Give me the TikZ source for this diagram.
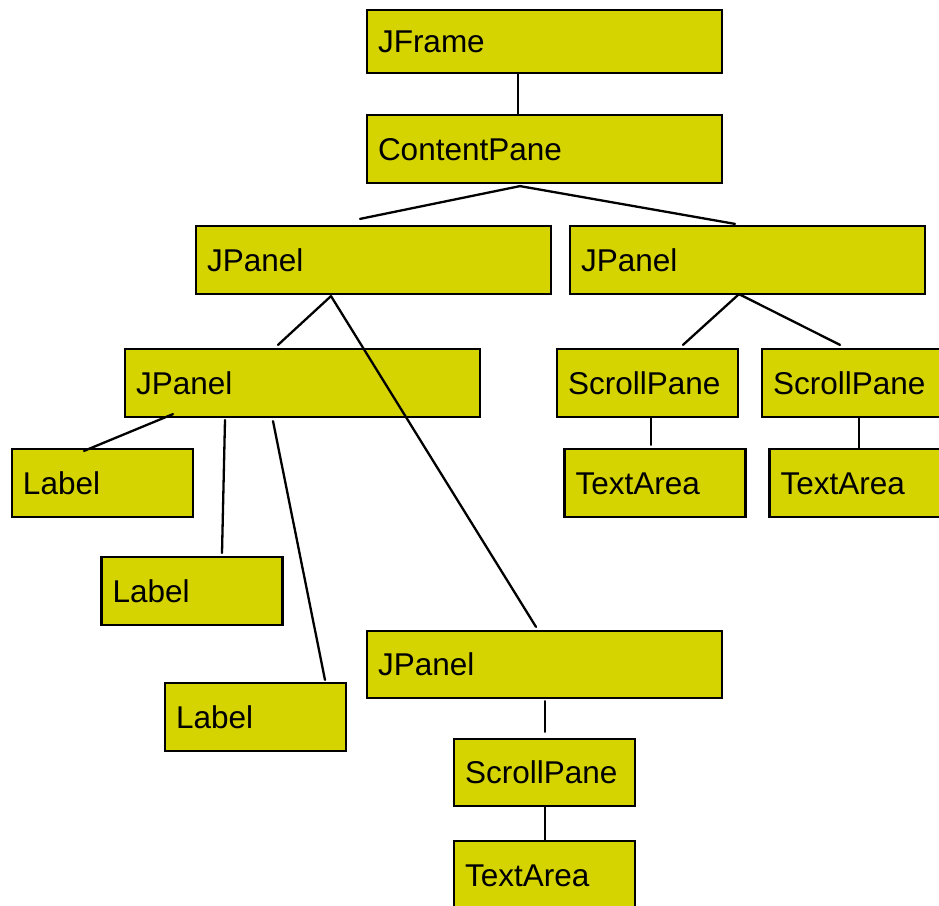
\documentclass[tikz,border=0pt]{standalone}
\usepackage{fontspec}
\setmainfont{Liberation Sans}
\usetikzlibrary{calc}
\definecolor{boxfill}{RGB}{213,211,0}
\tikzset{
  box/.style={draw=black, line width=2.2pt, fill=boxfill, rectangle,
    inner xsep=11pt, inner ysep=0pt, align=left,
    font=\fontsize{31.5}{35}\selectfont, text height=22.5pt, text depth=0pt},
  wide/.style={box, text width=333pt},
  narrow/.style={box, text width=159pt},
  conn/.style={line width=2.3pt, line cap=round}
}
\begin{document}
\begin{tikzpicture}[x=1pt,y=-1pt]
\useasboundingbox (0,0) rectangle (939,905);
\clip (0,0) rectangle (939,905);
% nodes
\node[wide, minimum height=63pt] (jf) at (544.5,41.5) {JFrame};
\node[wide, minimum height=68pt] (cp) at (544.5,149) {ContentPane};
\node[wide, minimum height=68pt] (jpl) at (373.5,260) {JPanel};
\node[wide, minimum height=68pt] (jpr) at (747.5,260) {JPanel};
\node[wide, minimum height=68pt] (jpll) at (302.5,383) {JPanel};
\node[narrow, minimum height=68pt] (spa) at (647.5,383) {ScrollPane};
\node[narrow, minimum height=68pt] (spb) at (852.5,383) {ScrollPane};
\node[narrow, minimum height=68pt] (lba) at (102.5,483) {Label};
\node[narrow, minimum height=68pt] (taa) at (655,483) {TextArea};
\node[narrow, minimum height=68pt] (tab) at (860,483) {TextArea};
\node[narrow, minimum height=68pt] (lbb) at (192,591) {Label};
\node[wide, minimum height=67pt] (jpb) at (544.5,664.5) {JPanel};
\node[narrow, minimum height=68pt] (lbc) at (255.5,717) {Label};
\node[narrow, minimum height=67pt] (spc) at (544.5,772.5) {ScrollPane};
\node[narrow, minimum height=68pt] (tac) at (544.5,875) {TextArea};
% connectors
\draw[conn] ($(jf.south)+(-26.5,0)$) -- ($(cp.north)+(-26.5,0)$);
\draw[conn] ($(cp.south)+(-24.5,2)$) -- ($(jpl.north)+(-13.5,-6)$);
\draw[conn] ($(cp.south)+(-24.5,2)$) -- ($(jpr.north)+(-12.5,-1)$);
\draw[conn] ($(jpl.south)+(-42.5,1)$) -- ($(jpll.north)+(-24.5,-3)$);
\draw[conn] ($(jpl.south)+(-42.5,1)$) -- ($(jpb.north)+(-8.5,-3)$);
\draw[conn] ($(jpr.south)+(-8.5,-1)$) -- ($(spa.north)+(35.5,-3)$);
\draw[conn] ($(jpr.south)+(-8.5,-1)$) -- ($(spb.north)+(-12.5,-3)$);
\draw[conn] ($(jpll.south)+(-129.5,-4)$) -- ($(lba.north)+(-18.5,3)$);
\draw[conn] ($(jpll.south)+(-77.5,2)$) -- ($(lbb.north)+(30,-3)$);
\draw[conn] ($(jpll.south)+(-29.5,3)$) -- ($(lbc.north)+(69.5,-2)$);
\draw[conn] ($(spa.south)+(3.5,0)$) -- ($(taa.north)+(-4,-3)$);
\draw[conn] ($(spb.south)+(6.5,0)$) -- ($(tab.north)+(-1,0)$);
\draw[conn] ($(jpb.south)+(0.5,2)$) -- ($(spc.north)+(0.5,-6)$);
\draw[conn] ($(spc.south)+(0.5,0)$) -- ($(tac.north)+(0.5,0)$);
\end{tikzpicture}
\end{document}
